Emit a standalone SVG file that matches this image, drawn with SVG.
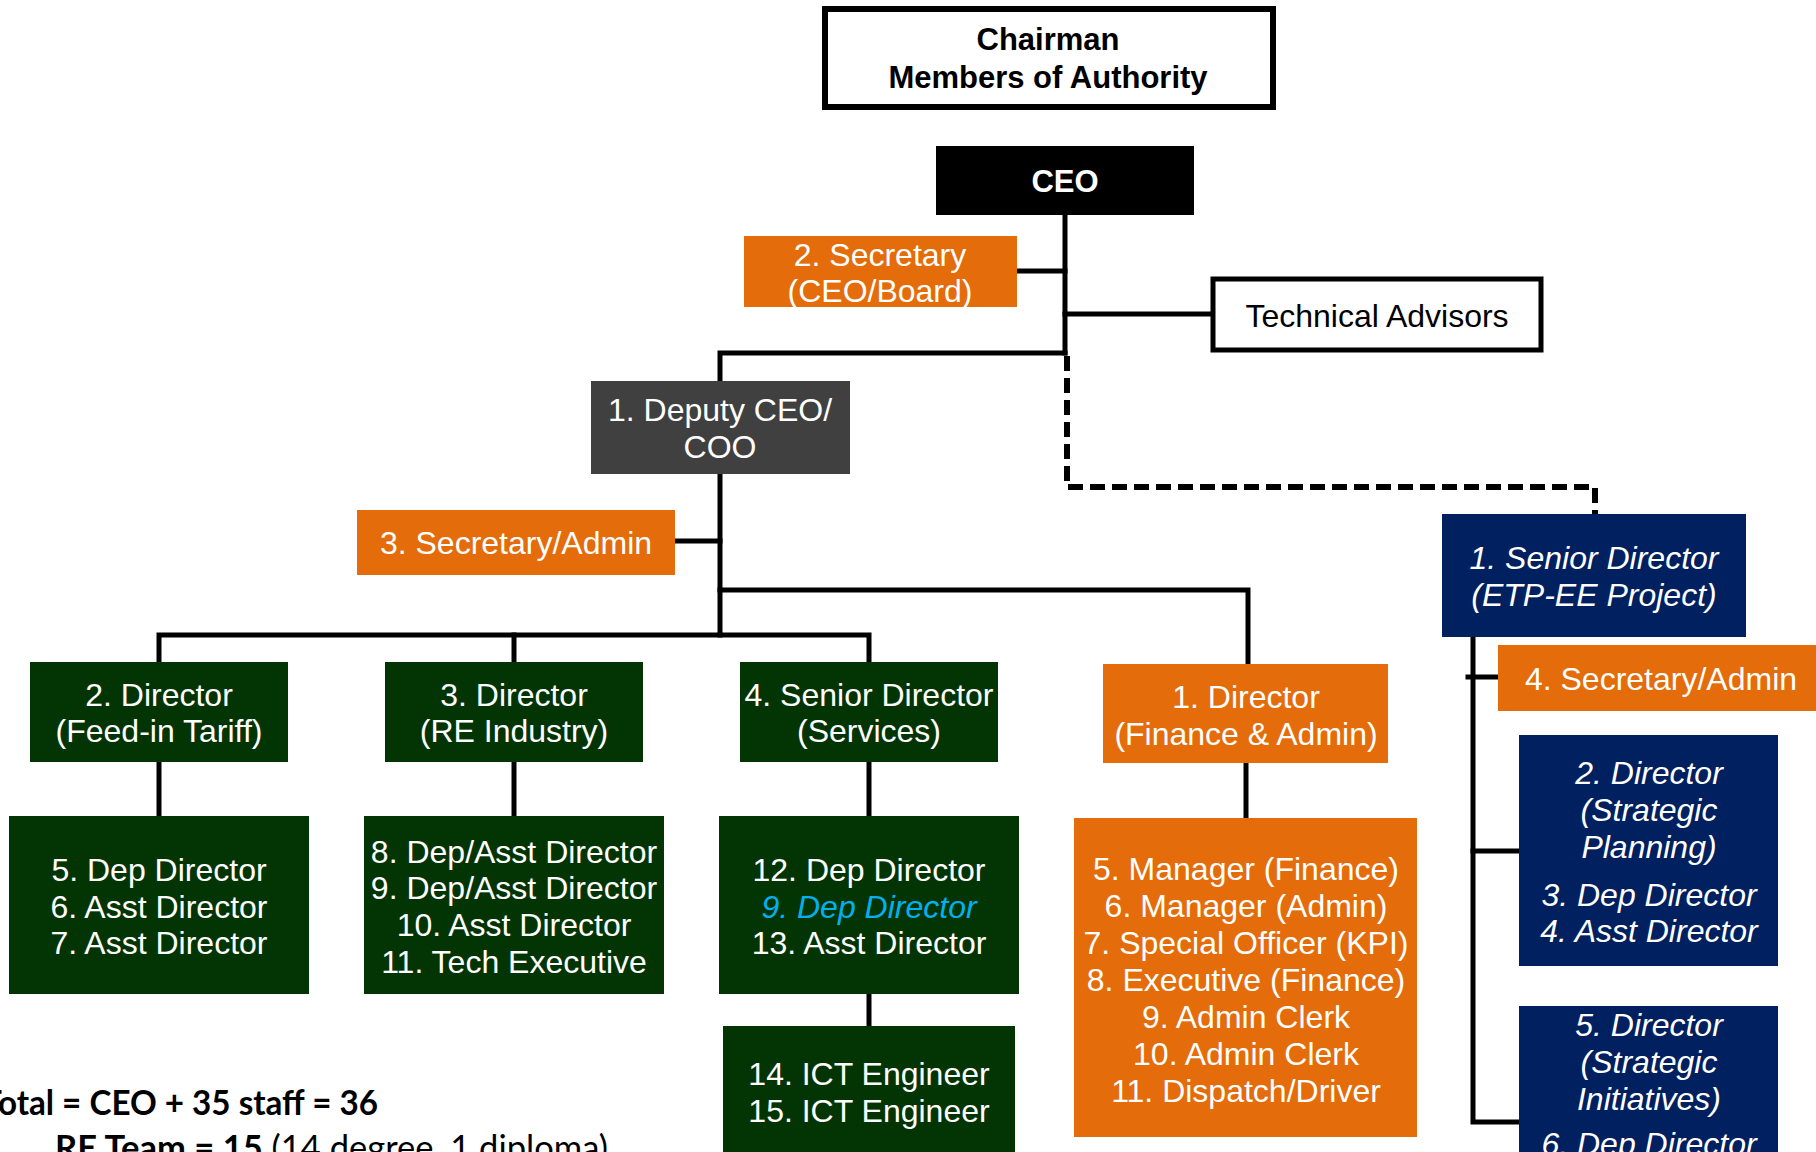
<svg xmlns="http://www.w3.org/2000/svg" width="1816" height="1152" viewBox="0 0 1816 1152">
<style>
.t{font-family:"Liberation Sans",Arial,sans-serif;font-size:32px;fill:#fff;text-anchor:middle}
.i{font-style:italic}
.b{font-weight:bold}
.k{fill:#000}
.org{fill:#E46C0A}
.grn{fill:#033403}
.nav{fill:#002060}
.gry{fill:#404040}
.ln{stroke:#000;stroke-width:5;fill:none;stroke-linecap:square}
.dash{stroke:#000;stroke-width:6;fill:none;stroke-dasharray:15 7}
.note{font-family:Lato,"Open Sans",sans-serif;font-size:35px;fill:#000}
</style>
<rect width="1816" height="1152" fill="#fff"/>
<g id="connectors">
<path class="ln" d="M1065 215V353"/>
<path class="ln" d="M1017 271H1065"/>
<path class="ln" d="M1065 314H1213"/>
<path class="ln" d="M1065 353H720V381"/>
<path class="dash" d="M1067 356V487H1595V514"/>
<path class="ln" d="M720 474V635"/>
<path class="ln" d="M675 541H720"/>
<path class="ln" d="M720 590H1248V664"/>
<path class="ln" d="M159 662V635H869V662"/>
<path class="ln" d="M514 635V662"/>
<path class="ln" d="M159 761V816"/>
<path class="ln" d="M514 761V816"/>
<path class="ln" d="M869 761V816"/>
<path class="ln" d="M869 994V1026"/>
<path class="ln" d="M1246 763V818"/>
<path class="ln" d="M1473 637V1122H1518"/>
<path class="ln" d="M1468 677H1498"/>
<path class="ln" d="M1473 851H1518"/>
</g>
<g id="chairman">
<rect x="825" y="9" width="448" height="98" fill="#fff" stroke="#000" stroke-width="6"/>
<text class="t b k" x="1048" y="50" style="font-size:31px">Chairman</text>
<text class="t b k" x="1048" y="88" style="font-size:31px">Members of Authority</text>
</g>
<g id="ceo">
<rect x="936" y="146" width="258" height="69" fill="#000"/>
<text class="t b" x="1065" y="192" style="font-size:31px">CEO</text>
</g>
<g id="secretary-ceo">
<rect class="org" x="744" y="236" width="273" height="71"/>
<text class="t" x="880" y="266">2. Secretary</text>
<text class="t" x="880" y="302">(CEO/Board)</text>
</g>
<g id="technical-advisors">
<rect x="1213" y="279" width="328" height="71" fill="#fff" stroke="#000" stroke-width="5"/>
<text class="t k" x="1377" y="327">Technical Advisors</text>
</g>
<g id="deputy-ceo">
<rect class="gry" x="591" y="381" width="259" height="93"/>
<text class="t" x="720" y="421">1. Deputy CEO/</text>
<text class="t" x="720" y="458">COO</text>
</g>
<g id="secretary-admin-3">
<rect class="org" x="357" y="510" width="318" height="65"/>
<text class="t" x="516" y="554">3. Secretary/Admin</text>
</g>
<g id="director-fit">
<rect class="grn" x="30" y="662" width="258" height="100"/>
<text class="t" x="159" y="706">2. Director</text>
<text class="t" x="159" y="742">(Feed-in Tariff)</text>
</g>
<g id="director-re">
<rect class="grn" x="385" y="662" width="258" height="100"/>
<text class="t" x="514" y="706">3. Director</text>
<text class="t" x="514" y="742">(RE Industry)</text>
</g>
<g id="senior-director-services">
<rect class="grn" x="740" y="662" width="258" height="100"/>
<text class="t" x="869" y="706">4. Senior Director</text>
<text class="t" x="869" y="742">(Services)</text>
</g>
<g id="fit-staff">
<rect class="grn" x="9" y="816" width="300" height="178"/>
<text class="t" x="159" y="881">5. Dep Director</text>
<text class="t" x="159" y="918">6. Asst Director</text>
<text class="t" x="159" y="954">7. Asst Director</text>
</g>
<g id="re-staff">
<rect class="grn" x="364" y="816" width="300" height="178"/>
<text class="t" x="514" y="863">8. Dep/Asst Director</text>
<text class="t" x="514" y="899">9. Dep/Asst Director</text>
<text class="t" x="514" y="936">10. Asst Director</text>
<text class="t" x="514" y="973">11. Tech Executive</text>
</g>
<g id="services-staff">
<rect class="grn" x="719" y="816" width="300" height="178"/>
<text class="t" x="869" y="881">12. Dep Director</text>
<text class="t i" x="869" y="918" style="fill:#00B0F0">9. Dep Director</text>
<text class="t" x="869" y="954">13. Asst Director</text>
</g>
<g id="ict-staff">
<rect class="grn" x="723" y="1026" width="292" height="140"/>
<text class="t" x="869" y="1085">14. ICT Engineer</text>
<text class="t" x="869" y="1122">15. ICT Engineer</text>
</g>
<g id="director-finance">
<rect class="org" x="1103" y="664" width="285" height="99"/>
<text class="t" x="1246" y="708">1. Director</text>
<text class="t" x="1246" y="745">(Finance &amp; Admin)</text>
</g>
<g id="finance-staff">
<rect class="org" x="1074" y="818" width="343" height="319"/>
<text class="t" x="1246" y="880">5. Manager (Finance)</text>
<text class="t" x="1246" y="917">6. Manager (Admin)</text>
<text class="t" x="1246" y="954">7. Special Officer (KPI)</text>
<text class="t" x="1246" y="991">8. Executive (Finance)</text>
<text class="t" x="1246" y="1028">9. Admin Clerk</text>
<text class="t" x="1246" y="1065">10. Admin Clerk</text>
<text class="t" x="1246" y="1102">11. Dispatch/Driver</text>
</g>
<g id="senior-director-etp">
<rect class="nav" x="1442" y="514" width="304" height="123"/>
<text class="t i" x="1594" y="569">1. Senior Director</text>
<text class="t i" x="1594" y="606">(ETP-EE Project)</text>
</g>
<g id="secretary-admin-4">
<rect class="org" x="1498" y="645" width="318" height="66"/>
<text class="t" x="1661" y="690">4. Secretary/Admin</text>
</g>
<g id="director-strategic-planning">
<rect class="nav" x="1519" y="735" width="259" height="231"/>
<text class="t i" x="1649" y="784">2. Director</text>
<text class="t i" x="1649" y="821">(Strategic</text>
<text class="t i" x="1649" y="858">Planning)</text>
<text class="t i" x="1649" y="906">3. Dep Director</text>
<text class="t i" x="1649" y="942">4. Asst Director</text>
</g>
<g id="director-strategic-initiatives">
<rect class="nav" x="1519" y="1006" width="259" height="160"/>
<text class="t i" x="1649" y="1036">5. Director</text>
<text class="t i" x="1649" y="1073">(Strategic</text>
<text class="t i" x="1649" y="1110">Initiatives)</text>
<text class="t i" x="1649" y="1155">6. Dep Director</text>
</g>
<g id="totals">
<text class="note" x="-18" y="1115" font-weight="bold" textLength="396" lengthAdjust="spacingAndGlyphs">Total = CEO + 35 staff = 36</text>
<text class="note" x="55" y="1160" textLength="553" lengthAdjust="spacingAndGlyphs"><tspan font-weight="bold">RE Team = 15</tspan> (14 degree, 1 diploma)</text>
</g>
</svg>
